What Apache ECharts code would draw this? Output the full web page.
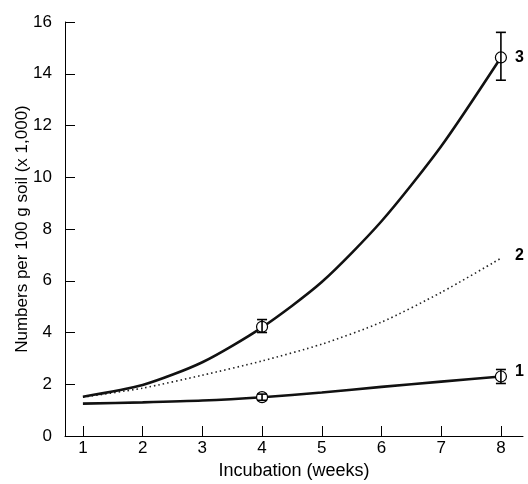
<!DOCTYPE html>
<html>
<head>
<meta charset="utf-8">
<script src="https://cdn.jsdelivr.net/npm/echarts@6/dist/echarts.min.js"></script>
<style>
  html, body { margin: 0; padding: 0; background: #fff; }
  #chart { width: 528px; height: 484px; }
</style>
</head>
<body>
<div id="chart"></div>
<script>
// weeks of incubation
const weeks = [1, 2, 3, 4, 5, 6, 7, 8];
const yTicks = [0, 2, 4, 6, 8, 10, 12, 14, 16];

// curves (numbers x 1,000)
const curve1 = [1.25, 1.3, 1.37, 1.5, 1.68, 1.9, 2.1, 2.3];
const curve2 = [1.5, 1.85, 2.35, 2.9, 3.55, 4.4, 5.55, 6.87];
const curve3 = [1.52, 1.97, 2.85, 4.2, 5.95, 8.3, 11.2, 14.63];

// measured points with error bars
const markerWeeks = [4, 8];
const mean1 = [1.5, 2.3];
const low1 = [1.38, 2.03];
const high1 = [1.62, 2.57];
const mean3 = [4.22, 14.63];
const low3 = [4.0, 13.75];
const high3 = [4.5, 15.6];

const FONT = "'Liberation Sans', Arial, sans-serif";

function pairs(ys) {
  return weeks.map((w, i) => [w, ys[i]]);
}

function errData(mean, low, high) {
  return markerWeeks.map((w, i) => [w, mean[i], low[i], high[i]]);
}

// circle + vertical error bar with caps
function renderErr(params, api) {
  const x = api.value(0);
  const c = api.coord([x, api.value(1)]);
  const lo = api.coord([x, api.value(2)]);
  const hi = api.coord([x, api.value(3)]);
  const cap = 5;
  return {
    type: "group",
    children: [
      { type: "circle", shape: { cx: c[0], cy: c[1], r: 5.5 },
        style: { fill: "#fff", stroke: "#000", lineWidth: 1.2 } },
      { type: "line", shape: { x1: lo[0], y1: lo[1], x2: hi[0], y2: hi[1] },
        style: { stroke: "#000", lineWidth: 1.6 } },
      { type: "line", shape: { x1: lo[0] - cap, y1: lo[1], x2: lo[0] + cap, y2: lo[1] },
        style: { stroke: "#000", lineWidth: 1.6 } },
      { type: "line", shape: { x1: hi[0] - cap, y1: hi[1], x2: hi[0] + cap, y2: hi[1] },
        style: { stroke: "#000", lineWidth: 1.6 } }
    ]
  };
}

const chart = echarts.init(document.getElementById("chart"));

const endLabel = (offset) => ({
  show: true,
  formatter: "{a}",
  fontFamily: FONT,
  fontSize: 16,
  fontWeight: "bold",
  color: "#000",
  offset: offset
});

const option = {
  animation: false,
  backgroundColor: "#fff",
  grid: { left: 65, right: 5, top: 22, bottom: 48, outerBoundsMode: "none", containLabel: false },
  xAxis: {
    type: "value",
    min: 0.7,
    max: 8.37,
    name: "Incubation (weeks)",
    nameLocation: "middle",
    nameGap: 26,
    nameMoveOverlap: false,
    nameTextStyle: { fontFamily: FONT, fontSize: 18, color: "#000" },
    axisLine: { show: true, onZero: false, lineStyle: { color: "#000", width: 1 } },
    axisTick: { show: true, inside: true, length: 10, customValues: weeks,
      lineStyle: { color: "#000" } },
    axisLabel: { customValues: weeks, fontFamily: FONT, fontSize: 17, color: "#000", margin: 4 },
    splitLine: { show: false }
  },
  yAxis: {
    type: "value",
    min: 0,
    max: 16,
    interval: 2,
    name: "Numbers per 100 g soil (x 1,000)",
    nameLocation: "middle",
    nameGap: 34,
    nameMoveOverlap: false,
    nameTextStyle: { fontFamily: FONT, fontSize: 17, color: "#000" },
    axisLine: { show: true, lineStyle: { color: "#000", width: 1 } },
    axisTick: { show: true, inside: true, length: 10, lineStyle: { color: "#000" } },
    axisLabel: { fontFamily: FONT, fontSize: 17, color: "#000", margin: 13,
      formatter: (v) => (yTicks.includes(v) ? String(v) : "") },
    splitLine: { show: false }
  },
  series: [
    {
      name: "1",
      type: "line",
      data: pairs(curve1),
      smooth: 0.25,
      symbol: "none",
      lineStyle: { color: "#111", width: 2.6 },
      endLabel: endLabel([6, -5])
    },
    {
      name: "2",
      type: "line",
      data: pairs(curve2),
      smooth: 0.25,
      symbol: "none",
      lineStyle: { color: "#222", width: 1.6, type: [1.5, 3] },
      endLabel: endLabel([6, -3])
    },
    {
      name: "3",
      type: "line",
      data: pairs(curve3),
      smooth: 0.25,
      symbol: "none",
      lineStyle: { color: "#111", width: 2.6 },
      endLabel: endLabel([6, 0])
    },
    {
      type: "custom",
      renderItem: renderErr,
      data: errData(mean1, low1, high1),
      z: 5
    },
    {
      type: "custom",
      renderItem: renderErr,
      data: errData(mean3, low3, high3),
      z: 5
    }
  ]
};

chart.setOption(option);
</script>
</body>
</html>
